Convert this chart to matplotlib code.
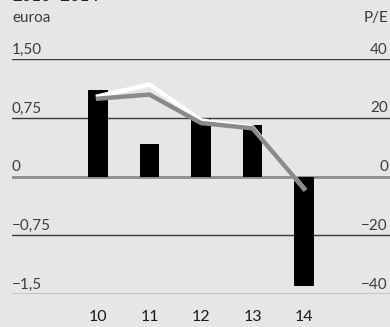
import matplotlib
matplotlib.use("Agg")
import matplotlib.pyplot as plt

years = [10, 11, 12, 13, 14]
year_labels = ["10", "11", "12", "13", "14"]
eps = [1.10, 0.42, 0.73, 0.66, -1.40]
pe_white = [27.3, 31.3, 19.1, 16.7, -4.1]
pe_gray = [26.5, 27.9, 18.2, 16.4, -4.1]
left_ticks = [1.5, 0.75, 0, -0.75, -1.5]
left_labels = ["1,50", "0,75", "0", "\u22120,75", "\u22121,5"]
right_labels = ["40", "20", "0", "\u221220", "\u221240"]

bg = "#e6e6e6"
font = ["Lato", "DejaVu Sans"]

fig = plt.figure(figsize=(3.9, 3.27), dpi=100, facecolor=bg)
W, H = 390, 327
ax = fig.add_axes([12 / W, (H - 294) / H, 378 / W, (294 - 59) / H])
ax.set_facecolor(bg)
ax.set_xlim(8.33, 15.67)
ax.set_ylim(-1.5, 1.5)
ax.axis("off")

for t in left_ticks:
    if t == 0:
        ax.axhline(t, color="#8c8c8c", lw=2.0, zorder=1)
    else:
        ax.axhline(t, color="#3a3a3a", lw=1.0, zorder=1)

ax.bar(years, eps, width=0.37, color="black", zorder=2)

ax2 = ax.twinx()
ax2.set_ylim(-40, 40)
ax2.axis("off")
ax2.plot(years, pe_white, color="white", lw=3.2, zorder=3, solid_joinstyle="miter")
ax2.plot(years, pe_gray, color="#8a8a8a", lw=3.2, zorder=4, solid_joinstyle="miter")

txt = "#3c3c3c"
for t, lab, rlab in zip(left_ticks, left_labels, right_labels):
    ax.text(8.33, t + 0.03, lab, ha="left", va="bottom", fontsize=11,
            family=font, color=txt)
    ax.text(15.63, t + 0.03, rlab, ha="right", va="bottom", fontsize=11,
            family=font, color=txt)

for x, lab in zip(years, year_labels):
    ax.text(x, -1.70, lab, ha="center", va="top", fontsize=11.5,
            family=font, color="#1a1a1a", clip_on=False)

fig.text(12 / W, 1 - 4 / H, "2010\u20132014", ha="left", va="bottom", fontsize=12,
         family=font, fontweight="bold", color="#222222")
fig.text(12 / W, 1 - 18 / H, "euroa", ha="left", va="center", fontsize=11,
         family=font, color=txt)
fig.text(388 / W, 1 - 18 / H, "P/E", ha="right", va="center", fontsize=11,
         family=font, color=txt)

fig.savefig("out.png", dpi=100, facecolor=bg)
